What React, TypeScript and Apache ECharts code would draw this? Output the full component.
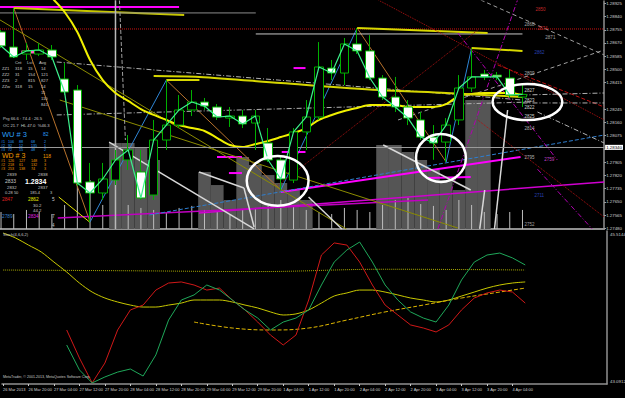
import React, { useEffect, useRef } from "react";
import * as echarts from "echarts";

const FONT = "Liberation Sans, Arial, sans-serif";
const XMIN = -0.08;
const XMAX = 47.42;
const PMIN = 1.274758;
const PMAX = 1.289396;

// time axis
const timeLabels = ["26 Mar 2013", "26 Mar 20:00", "27 Mar 04:00", "27 Mar 12:00", "27 Mar 20:00", "28 Mar 04:00", "28 Mar 12:00", "28 Mar 20:00", "29 Mar 04:00", "29 Mar 12:00", "29 Mar 20:00", "1 Apr 04:00", "1 Apr 12:00", "1 Apr 20:00", "2 Apr 04:00", "2 Apr 12:00", "2 Apr 20:00", "3 Apr 04:00", "3 Apr 12:00", "3 Apr 20:00", "4 Apr 04:00"];
const timeLabelBars = [0, 2, 4, 6, 8, 10, 12, 14, 16, 18, 20, 22, 24, 26, 28, 30, 32, 34, 36, 38, 40];

// price axis tick labels
const priceTicks = [1.2748, 1.27565, 1.2765, 1.27735, 1.2782, 1.27905, 1.2799, 1.28075, 1.2816, 1.28245, 1.28415, 1.285, 1.28585, 1.2867, 1.28755, 1.2884, 1.28925];
const currentPrice = 1.2834;

// 4H candles
const opens = [1.28741, 1.28644, 1.28599, 1.28599, 1.28625, 1.28439, 1.28368, 1.27778, 1.27707, 1.2779, 1.27919, 1.27842, 1.27694, 1.28047, 1.28143, 1.2824, 1.28291, 1.28259, 1.28188, 1.28201, 1.28156, 1.28028, 1.27919, 1.2779, 1.28099, 1.28195, 1.28509, 1.28477, 1.28664, 1.28619, 1.28445, 1.28323, 1.28259, 1.28176, 1.28066, 1.28034, 1.28176, 1.28381, 1.28471, 1.28464, 1.28445, 1.28323];
const closes = [1.28651, 1.2858, 1.28619, 1.28625, 1.2858, 1.28355, 1.27771, 1.27707, 1.27797, 1.27919, 1.27983, 1.27675, 1.28047, 1.28143, 1.2824, 1.28291, 1.28265, 1.28195, 1.28201, 1.2815, 1.28201, 1.27919, 1.27797, 1.28099, 1.28195, 1.28516, 1.28477, 1.28664, 1.28619, 1.28445, 1.28323, 1.28259, 1.28188, 1.28066, 1.28028, 1.28143, 1.28381, 1.28452, 1.28452, 1.28452, 1.28336, 1.2834];
const lows = [1.28638, 1.28574, 1.28561, 1.28586, 1.28561, 1.28336, 1.27752, 1.27521, 1.27662, 1.27758, 1.27855, 1.27662, 1.27662, 1.27983, 1.28124, 1.28201, 1.2824, 1.28176, 1.28131, 1.28124, 1.27983, 1.27906, 1.27726, 1.27771, 1.27983, 1.28176, 1.28432, 1.284, 1.28599, 1.28432, 1.28304, 1.28227, 1.28143, 1.28047, 1.2792, 1.27906, 1.28143, 1.28355, 1.28432, 1.28432, 1.28317, 1.28259];
const highs = [1.28753, 1.28895, 1.2867, 1.2867, 1.28657, 1.28542, 1.284, 1.279, 1.279, 1.27983, 1.28079, 1.27983, 1.28176, 1.28432, 1.28336, 1.28368, 1.28317, 1.28278, 1.28259, 1.2824, 1.2824, 1.28124, 1.27951, 1.28124, 1.28304, 1.28676, 1.28561, 1.28702, 1.28766, 1.28721, 1.28464, 1.28452, 1.28304, 1.28227, 1.28143, 1.28188, 1.28464, 1.28638, 1.28497, 1.28484, 1.28497, 1.284];

// moving averages
const maSlow = [null, null, null, null, 1.2896, 1.28869, 1.28741, 1.28561, 1.28432, 1.28349, 1.28298, 1.28246, 1.28208, 1.28176, 1.28143, 1.28124, 1.28105, 1.2806, 1.28015, 1.28002, 1.28021, 1.28041, 1.28066, 1.28092, 1.28124, 1.28176, 1.28208, 1.28233, 1.28253, 1.28272, 1.28272, 1.28272, 1.28259, 1.28259, 1.28259, 1.28278, 1.2833, 1.28343, 1.28349, 1.28349, 1.28349, 1.28336];
const maLongBars = [12, 15.6, 22, 29.7, 35, 41];
const maLongVals = [1.28458, 1.28452, 1.28413, 1.28368, 1.28349, 1.28323];

// grey profile blocks [bar, top price]
const profileBars = [9, 10, 11, 12, 16, 17, 18, 19, 20, 21, 22, 23, 24, 30, 31, 32, 33, 34, 35, 36, 37, 38];
const profileTops = [1.28028, 1.28028, 1.28002, 1.27919, 1.27842, 1.27758, 1.27662, 1.27938, 1.27887, 1.27822, 1.27771, 1.27726, 1.27662, 1.28015, 1.28015, 1.2797, 1.27919, 1.27855, 1.2779, 1.27726, 1.28304, 1.28304];

// thin bottom ticks
const tickTops = [1.27585, 1.27572, 1.27598, 1.27585, 1.27572, 1.2763, 1.27778, 1.2779, 1.2763, 1.27662, 1.2763, 1.27611, 1.27598, 1.27585, 1.27611, 1.27624, 1.27598, 1.27585, 1.27572, 1.27598, 1.27611, 1.27624, 1.27662, 1.2763, 1.27598, 1.27585, 1.27572, 1.27611, 1.27598, 1.27585, 1.2763, 1.27662, 1.27675, 1.27636, 1.27624, 1.27598, 1.27662, 1.2763, 1.27585, 1.27572, 1.27585, 1.27598];

// circles [bar, price, radius bars, radius price]
const circleCx = [21.75, 34.59, 41.39];
const circleCy = [1.27785, 1.27932, 1.28291];
const circleRx = [2.43, 1.96, 2.74];
const circleRy = [0.0016, 0.00154, 0.00116];

// level labels on chart
const levelBars = [42.02, 41.16, 42.18, 42.8, 41.94, 41.16, 41.16, 41.16, 41.16, 41.16, 41.16, 41.16, 42.72, 41.94, 41.16];
const levelPrices = [1.28882, 1.28786, 1.28766, 1.28708, 1.28606, 1.28471, 1.28368, 1.28304, 1.28253, 1.28195, 1.28124, 1.27938, 1.27919, 1.27694, 1.27502];
const levelTexts = ["2850", "2868", "2874", "2871", "2862", "2809", "2827", "2823", "2822", "2825", "2814", "2795", "2759", "2711", "2752"];
const levelColors = ["#c02828", "#a0a0a0", "#c02828", "#a0a0a0", "#2840b0", "#b0b0b0", "#d0d0d0", "#d0d0d0", "#d0d0d0", "#d0d0d0", "#b0b0b0", "#b0b0b0", "#c040c0", "#2840b0", "#a0a0a0"];

// oscillator panel
const oscRed = [null, null, null, null, null, 35.3, 17.0, 0.7, 13.7, 35.3, 48.4, 51.6, 61.4, 66.0, 66.7, 64.7, 61.4, 62.7, 54.9, 48.4, 40.5, 32.0, 25.5, 32.0, 54.9, 84.3, 92.2, 90.8, 79.7, 64.7, 51.6, 45.1, 38.6, 36.6, 34.0, 38.6, 48.4, 56.2, 59.5, 61.4, 60.1, 52.9];
const oscGreen = [null, null, null, null, null, 25.5, 9.2, 0.7, 4.6, 7.8, 9.8, 5.2, 19.0, 41.8, 54.9, 58.2, 64.7, 61.4, 54.9, 48.4, 43.1, 35.3, 40.5, 43.1, 48.4, 64.7, 79.7, 87.6, 92.8, 79.7, 64.7, 54.9, 47.1, 43.1, 40.5, 51.6, 68.0, 79.7, 84.3, 85.6, 82.4, 77.8];
const oscYellow = [98.7, 95.4, 90.8, 86.3, 79.7, 73.2, 66.0, 60.1, 56.2, 53.6, 51.6, 50.3, 50.3, 51.6, 52.9, 54.9, 54.9, 54.9, 53.6, 51.6, 49.7, 47.1, 45.1, 45.8, 48.4, 52.9, 57.5, 59.5, 61.4, 61.4, 60.1, 58.2, 56.2, 54.9, 53.6, 54.9, 57.5, 60.1, 62.7, 64.7, 66.0, 66.7];
const oscDashBars = [15, 18, 21, 24, 27, 30, 33, 36, 39, 41];
const oscDashVals = [40.5, 36.6, 35.3, 36.6, 41.8, 47.1, 51.6, 56.2, 60.1, 62.7];
const oscDotBars = [0, 10, 20, 30, 41];
const oscDotVals = [74.5, 74, 73.5, 75, 74.5];

// drawn objects: [x1, p1, x2, p2, color, width, style]
const DD = [5, 2, 1, 2];
const trendLines: any[] = [
  [1, 1.28895, 7, 1.27521, "#b8722c", 1, "solid"],
  [7, 1.27521, 13, 1.28432, "#2f86d6", 1, "solid"],
  [13, 1.28432, 22, 1.27726, "#b8722c", 1, "solid"],
  [22, 1.27726, 28, 1.28766, "#2f86d6", 1, "solid"],
  [28, 1.28766, 35, 1.27906, "#b8722c", 1, "solid"],
  [35, 1.27906, 37, 1.28638, "#2f86d6", 1, "solid"],
  [-0.08, 1.28901, 14, 1.28901, "#ff00ff", 2, "solid"],
  [1, 1.28895, 14.4, 1.2885, "#c8c800", 2, "solid"],
  [-0.08, 1.28863, 20.03, 1.28863, "#8c8c8c", 1, "solid"],
  [-0.08, 1.2876, 47.42, 1.2876, "#d01010", 1, "dotted"],
  [20.03, 1.28728, 41, 1.28728, "#c8c8c8", 1, "solid"],
  [28, 1.28766, 38.26, 1.28734, "#d8d800", 2, "solid"],
  [37, 1.28638, 41, 1.28619, "#d8d800", 2, "solid"],
  [13, 1.28432, 15.6, 1.28432, "#d8d800", 2, "solid"],
  [4.38, 1.28548, 41, 1.28304, "#b0b0b0", 1, DD],
  [4.38, 1.28208, 41.6, 1.28291, "#b0b0b0", 1, DD],
  [22, 1.27713, 40.85, 1.27938, "#ff00ff", 2, "solid"],
  [15.57, 1.27579, 47.42, 1.27778, "#d000d0", 1.5, "solid"],
  [4.46, 1.27546, 33.57, 1.27662, "#c000c0", 1.5, "solid"],
  [16.98, 1.27938, 18.94, 1.27938, "#ff00ff", 2, "solid"],
  [17.92, 1.27835, 18.94, 1.27835, "#ff00ff", 2, "solid"],
  [22.07, 1.2797, 23.94, 1.2797, "#ff00ff", 2, "solid"],
  [23.0, 1.28509, 23.94, 1.28509, "#ff00ff", 2, "solid"],
  [33.57, 1.27803, 36.93, 1.2781, "#ff00ff", 2, "solid"],
  [1.6, 1.28612, 2.6, 1.28612, "#ff60c0", 3, "solid"],
  [11.66, 1.27566, 47.42, 1.28079, "#2f7fd0", 1, "dashed"],
  [-0.08, 1.28818, 27.15, 1.27476, "#8c8c00", 1, "solid"],
  [4.62, 1.28304, 35.92, 1.27482, "#8c8c00", 1, "solid"],
  [4.54, 1.27681, 6.96, 1.27521, "#e6e600", 1, "solid"],
  [29.66, 1.28946, 47.42, 1.28176, "#b01010", 1, "dotted"],
  [21.8, 1.27758, 37.48, 1.28753, "#a01010", 1, "dotted"],
  [37.48, 1.28176, 47.42, 1.27553, "#b01010", 1, "dotted"],
  [39.05, 1.28529, 47.42, 1.28259, "#c01010", 1, "dashed"],
  [37.72, 1.28946, 47.42, 1.28593, "#a0a0a0", 1, [4, 3]],
  [31.22, 1.28176, 47.42, 1.28625, "#a0a0a0", 1, [4, 3]],
  [41, 1.28336, 47.42, 1.28349, "#b0b0b0", 1, DD],
  [41, 1.28285, 47.42, 1.28285, "#b0b0b0", 1, DD],
  [42.18, 1.28227, 47.42, 1.28028, "#b0b0b0", 1, DD],
  [35.92, 1.28734, 43.74, 1.27919, "#b000b0", 1, DD],
  [34.35, 1.27476, 40.61, 1.28946, "#b000b0", 1, DD],
  [42.18, 1.2786, 46.48, 1.27476, "#b000b0", 1, DD],
  [8.5, 1.28034, 19.9, 1.27476, "#d8d8d8", 1.5, "solid"],
  [30.05, 1.28015, 36.93, 1.27726, "#d8d8d8", 1.5, "solid"],
  [38.03, 1.27726, 37.64, 1.27476, "#d8d8d8", 1.5, "solid"],
  [39.83, 1.2824, 38.8, 1.27476, "#d8d8d8", 1.5, "solid"],
  [15.57, 1.27842, 19.1, 1.27739, "#d8d8d8", 1.5, "solid"],
  [19.1, 1.27739, 19.9, 1.27489, "#d8d8d8", 1.5, "solid"],
  [24.18, 1.27681, 26.8, 1.27476, "#d8d8d8", 1.5, "solid"],
  [9.0, 1.28946, 9.0, 1.27476, "#b8b8b8", 1.5, "solid"],
  [9.31, 1.28946, 9.78, 1.28047, "#a0a0a0", 1, "dashed"],
];

// info panel rows: [x, y, text, color, size, bold]
const G = "#c8c8c8";
const B = "#2a9df4";
const O = "#f09a00";
const S = 3.7;
const infoRows: any[] = [
  [15, 62, "Cnt", G, 4.2], [27, 62, "Lst", G, 4.2], [39, 62, "Avg", G, 4.2],
  [2, 68, "ZZ1", G, 4.2], [15, 68, "318", G, 4.2], [28, 68, "15", G, 4.2], [41, 68, "14", G, 4.2],
  [2, 74, "ZZ2", G, 4.2], [15, 74, "31", G, 4.2], [28, 74, "154", G, 4.2], [41, 74, "121", G, 4.2],
  [2, 80, "ZZ3", G, 4.2], [15, 80, "2", G, 4.2], [28, 80, "815", G, 4.2], [41, 80, "827", G, 4.2],
  [2, 86, "ZZw", G, 4.2], [15, 86, "318", G, 4.2], [28, 86, "15", G, 4.2], [41, 86, "14", G, 4.2],
  [41, 92, "11", G, 4.2], [41, 98, "110", G, 4.2], [41, 104, "841", G, 4.2],
  [3, 118, "Prg 66.6 : 74.4 : 26.5", G, 4.2],
  [3, 125, "OC 21.7  HL 47.0  %46.3", G, 4.2],
  [2, 134, "WU # 3", B, 7.5], [43, 134, "82", B, 5],
  [1, 141.5, "#1", B, S], [8, 141.5, "106", B, S], [19, 141.5, "88", B, S], [31, 141.5, "68", B, S], [44, 141.5, "2", B, S],
  [1, 145.8, "#2", B, S], [8, 145.8, "92", B, S], [19, 145.8, "12", B, S], [31, 145.8, "135", B, S], [44, 145.8, "1", B, S],
  [1, 150.1, "#3", B, S], [8, 150.1, "72", B, S], [19, 150.1, "15", B, S], [31, 150.1, "48", B, S], [44, 150.1, "2", B, S],
  [2, 155.5, "WD # 3", O, 7], [43, 155.5, "118", O, 5],
  [1, 161.2, "#1", O, S], [8, 161.2, "126", O, S], [19, 161.2, "127", O, S], [31, 161.2, "148", O, S], [44, 161.2, "3", O, S],
  [1, 165.3, "#2", O, S], [8, 165.3, "218", O, S], [19, 165.3, "61", O, S], [31, 165.3, "132", O, S], [44, 165.3, "3", O, S],
  [1, 169.4, "#3", O, S], [8, 169.4, "253", O, S], [19, 169.4, "138", O, S], [31, 169.4, "74", O, S], [44, 169.4, "3", O, S],
  [7, 174.5, "2839", G, 4.3], [38, 174.5, "2838", G, 4.3],
  [5, 181, "2833", G, 5], [25, 181, "1.2834", "#ffffff", 7, true],
  [7, 187, "2832", G, 4.3], [38, 187, "2837", G, 4.3],
  [5, 192.3, "0.28 50", G, 4], [30, 192.3, "185.4", G, 4], [50, 192.3, "3", G, 4],
  [2, 199, "2847", "#e02020", 4.8], [28, 199, "2862", "#e6e600", 4.8], [52, 199, "5", G, 4.8],
  [33, 205, "30.2", G, 4.3], [33, 210, "44.2", G, 4.3],
  [2, 216, "2789", "#3a80c8", 4.8], [28, 216, "2834", "#e020e0", 4.8], [52, 216, "7", G, 4.8],
  [52, 225, "4", G, 4.5],
  [3, 234, "Stoch(4,6,6,2)", G, 4],
  [3, 377, "MetaTrader, \u00a9 2001-2013, MetaQuotes Software Corp.", G, 3.6],
  [610, 234, "45.5144", G, 4.4],
  [610, 381, "43.0912", G, 4.4],
];

export default function App() {
  const ref = useRef<HTMLDivElement>(null);
  useEffect(() => {
    if (!ref.current) return;
    const chart = echarts.init(ref.current, null, { renderer: "svg" });

    const idx = (arr: (number | null)[]) => arr.map((v, i) => [i, v]);
    const pair = (xs: number[], ys: number[]) => xs.map((x, i) => [x, ys[i]]);

    const lineSeries = trendLines.map((t) => ({
      type: "line",
      xAxisIndex: 0,
      yAxisIndex: 0,
      data: [[t[0], t[1]], [t[2], t[3]]],
      symbol: "none",
      silent: true,
      clip: true,
      z: 3,
      lineStyle: { color: t[4], width: t[5], type: t[6] },
    }));

    const option: any = {
      backgroundColor: "#000",
      animation: false,
      textStyle: { fontFamily: FONT },
      grid: [
        { left: 0, top: 1, width: 607, height: 228 },
        { left: 0, top: 231, width: 607, height: 153 },
      ],
      xAxis: [
        {
          type: "value", gridIndex: 0, min: XMIN, max: XMAX,
          axisLine: { show: true, onZero: false, lineStyle: { color: "#909090", width: 2 } },
          axisTick: { show: false }, axisLabel: { show: false }, splitLine: { show: false },
        },
        {
          type: "value", gridIndex: 1, min: XMIN, max: XMAX,
          axisLine: { show: true, onZero: false, lineStyle: { color: "#909090", width: 1.5 } },
          axisTick: { show: true, customValues: timeLabelBars, length: 2, lineStyle: { color: "#c8c8c8" } },
          axisLabel: {
            show: true, customValues: timeLabelBars,
            formatter: (v: number) => {
              const k = timeLabelBars.indexOf(Math.round(v));
              return k >= 0 ? timeLabels[k] : "";
            },
            color: "#d0d0d0", fontSize: 4, align: "left", margin: 3, fontFamily: FONT,
          },
          splitLine: { show: false },
        },
      ],
      yAxis: [
        {
          type: "value", gridIndex: 0, position: "right", min: PMIN, max: PMAX,
          axisLine: { show: true, onZero: false, lineStyle: { color: "#909090", width: 1.5 } },
          axisTick: { show: true, customValues: priceTicks, length: 2, lineStyle: { color: "#a0a0a0" } },
          axisLabel: {
            show: true, customValues: priceTicks,
            formatter: (v: number) => v.toFixed(5),
            color: "#d0d0d0", fontSize: 4.4, margin: 2, fontFamily: FONT,
          },
          splitLine: { show: false },
        },
        {
          type: "value", gridIndex: 1, position: "right", min: 0, max: 100,
          axisLine: { show: true, onZero: false, lineStyle: { color: "#909090", width: 1.5 } },
          axisTick: { show: false }, axisLabel: { show: false }, splitLine: { show: false },
        },
      ],
      series: [
        {
          type: "custom", xAxisIndex: 0, yAxisIndex: 0, clip: true, silent: true, z: 1,
          data: pair(profileBars, profileTops),
          renderItem: (params: any, api: any) => {
            const p1 = api.coord([api.value(0) - 0.5, api.value(1)]);
            const p2 = api.coord([api.value(0) + 0.5, PMIN]);
            return { type: "rect", shape: { x: p1[0], y: p1[1], width: p2[0] - p1[0], height: p2[1] - p1[1] }, style: { fill: "#555555" } };
          },
        },
        {
          type: "custom", xAxisIndex: 0, yAxisIndex: 0, clip: true, silent: true, z: 1,
          data: idx(tickTops),
          renderItem: (params: any, api: any) => {
            const p1 = api.coord([api.value(0), api.value(1)]);
            const p2 = api.coord([api.value(0), PMIN]);
            return { type: "line", shape: { x1: p1[0], y1: p1[1], x2: p2[0], y2: p2[1] }, style: { stroke: "#bdbdbd", lineWidth: 1 } };
          },
        },
        ...lineSeries,
        {
          type: "line", xAxisIndex: 0, yAxisIndex: 0, data: idx(maSlow), symbol: "none", smooth: 0.3, clip: true, z: 4,
          lineStyle: { color: "#f0f000", width: 2 },
        },
        {
          type: "line", xAxisIndex: 0, yAxisIndex: 0, data: pair(maLongBars, maLongVals), symbol: "none", smooth: 0.3, clip: true, z: 4,
          lineStyle: { color: "#d6d600", width: 2 },
        },
        {
          type: "candlestick", xAxisIndex: 0, yAxisIndex: 0, z: 5, barWidth: 9,
          data: opens.map((o, i) => [i, o, closes[i], lows[i], highs[i]]),
          encode: { x: 0, y: [1, 2, 3, 4] },
          itemStyle: { color: "#000000", color0: "#ffffff", borderColor: "#00b000", borderColor0: "#00b000", borderWidth: 1 },
          markLine: {
            symbol: "none", silent: true,
            data: [{ yAxis: currentPrice }],
            lineStyle: { color: "#9a9a9a", type: "solid", width: 1 },
            label: {
              show: true, position: "end", distance: 1, formatter: "1.28340",
              backgroundColor: "#ffffff", color: "#000000", fontSize: 4.4, padding: [1, 1, 0, 1], fontFamily: FONT,
            },
          },
        },
        {
          type: "line", xAxisIndex: 0, yAxisIndex: 0, data: idx(closes), symbol: "none", clip: true, z: 6,
          lineStyle: { color: "#3cf08c", width: 1.2 },
        },
        {
          type: "custom", xAxisIndex: 0, yAxisIndex: 0, clip: true, silent: true, z: 7,
          data: circleCx.map((c, i) => [c, circleCy[i], circleRx[i], circleRy[i]]),
          renderItem: (params: any, api: any) => {
            const c = api.coord([api.value(0), api.value(1)]);
            const s = api.size([api.value(2), api.value(3)]);
            return { type: "ellipse", shape: { cx: c[0], cy: c[1], rx: s[0], ry: s[1] }, style: { fill: "none", stroke: "#ffffff", lineWidth: 2.5 } };
          },
        },
        {
          type: "custom", xAxisIndex: 0, yAxisIndex: 0, clip: true, silent: true, z: 8,
          data: pair(levelBars, levelPrices),
          renderItem: (params: any, api: any) => {
            const c = api.coord([api.value(0), api.value(1)]);
            return {
              type: "text", x: c[0], y: c[1],
              style: { text: levelTexts[params.dataIndex], fill: levelColors[params.dataIndex], fontSize: 4.5, fontFamily: FONT, align: "left", verticalAlign: "middle" },
            };
          },
        },
        {
          type: "line", xAxisIndex: 1, yAxisIndex: 1, data: pair(oscDotBars, oscDotVals), symbol: "none", smooth: 0.4,
          lineStyle: { color: "#a8a800", width: 1, type: "dotted" },
        },
        {
          type: "line", xAxisIndex: 1, yAxisIndex: 1, data: idx(oscYellow), symbol: "none", smooth: 0.3,
          lineStyle: { color: "#c8c800", width: 1 },
        },
        {
          type: "line", xAxisIndex: 1, yAxisIndex: 1, data: pair(oscDashBars, oscDashVals), symbol: "none", smooth: 0.4,
          lineStyle: { color: "#e0b800", width: 1, type: "dashed" },
        },
        {
          type: "line", xAxisIndex: 1, yAxisIndex: 1, data: idx(oscRed), symbol: "none",
          lineStyle: { color: "#d01818", width: 1 },
        },
        {
          type: "line", xAxisIndex: 1, yAxisIndex: 1, data: idx(oscGreen), symbol: "none",
          lineStyle: { color: "#1fa85a", width: 1 },
        },
      ],
      graphic: infoRows.map((r) => ({
        type: "text", x: r[0], y: r[1], z: 100, silent: true,
        style: { text: r[2], fill: r[3], fontSize: r[4], fontWeight: r[5] ? "bold" : "normal", fontFamily: FONT, verticalAlign: "middle" },
      })),
    };
    chart.setOption(option);
    return () => chart.dispose();
  }, []);
  return <div ref={ref} style={{ position: "fixed", left: 0, top: 0, width: 625, height: 398 }} />;
}
